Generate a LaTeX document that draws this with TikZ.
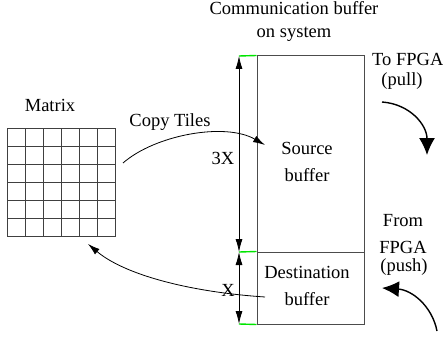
\documentclass[tikz,border=0pt]{standalone}
\usepackage{fontspec}
\setmainfont{Liberation Serif}
\usetikzlibrary{arrows.meta}

\begin{document}
\begin{tikzpicture}[x=1pt,y=-1pt]

\tikzstyle{txt}=[inner sep=0pt, align=center, font=\fontsize{18.5}{21}\selectfont]
\tikzstyle{buffer}=[rectangle, inner sep=0pt, line width=1pt, draw=black!70]
\tikzstyle{tilegrid}=[line width=1pt, draw=black!75]
\tikzstyle{greentick}=[line width=1.4pt, draw=green!90!black]
\tikzstyle{connect}=[-{Latex[length=12pt,width=7pt]}, line width=0.8pt]
\tikzstyle{dimen}=[{Latex[length=13pt,width=7pt]}-{Latex[length=13pt,width=7pt]}, line width=0.8pt]
\tikzstyle{flow}=[-{Latex[length=17pt,width=16pt]}, line width=1.4pt]

\useasboundingbox (0,0) rectangle (443,339);

% matrix of tiles
\node[rectangle, tilegrid, minimum size=108pt, inner sep=0pt] (mat) at (61,182) {};
\foreach \i in {1,...,5} {
  \draw[tilegrid] (7+18*\i,128) -- (7+18*\i,236);
  \draw[tilegrid] (7,128+18*\i) -- (115,128+18*\i);
}
\node[txt] (matlbl) at (50,105) {Matrix};

% buffers
\node[buffer, minimum width=107pt, minimum height=196pt] (src) at (310.5,154) {};
\node[buffer, minimum width=107pt, minimum height=72pt] (dst) at (310.5,288) {};
\node[txt] (srclbl) at (307,162) {Source\\[6pt]buffer};
\node[txt] (dstlbl) at (307,286) {Destination\\[6pt]buffer};
\node[txt] (title1) at (294,8) {Communication buffer};
\node[txt] (title2) at (294,34) {on system};

% sizes
\coordinate (t1) at (239,56);
\coordinate (t2) at (239,252);
\coordinate (t3) at (239,324);
\draw[greentick] (t1) -- (src.north west);
\draw[greentick] (t2) -- (dst.north west);
\draw[greentick] (t3) -- (dst.south west);
\path (t1) [dimen] edge (t2);
\path (t2) [dimen] edge (t3);
\node[txt] (big) at (223,158) {3X};
\node[txt] (small) at (228,290) {X};

% copy in and out
\coordinate (cpfrom) at (123,163);
\coordinate (cpto) at (265,145);
\coordinate (backfrom) at (265,297);
\coordinate (backto) at (88,244);
\draw[connect] (cpfrom) .. controls (155,135) and (225,122) .. (cpto);
\draw[connect] (backfrom) .. controls (190,292) and (125,275) .. (backto);
\node[txt] (cplbl) at (170,122) {Copy Tiles};

% FPGA side
\node[txt, anchor=west] (pulllbl) at (372,59) {To FPGA};
\node[txt] (pullsub) at (402,81) {(pull)};
\node[txt] (pushlbl) at (403,234) {From\\[6pt]FPGA};
\node[txt] (pushsub) at (404,267) {(push)};
\coordinate (pullfrom) at (382,102);
\coordinate (pullto) at (427,155);
\coordinate (pushfrom) at (437,331);
\coordinate (pushto) at (382,288);
\draw[flow] (pullfrom) .. controls (410,104) and (427,125) .. (pullto);
\draw[flow] (pushfrom) .. controls (432,306) and (412,290) .. (pushto);

\end{tikzpicture}
\end{document}
